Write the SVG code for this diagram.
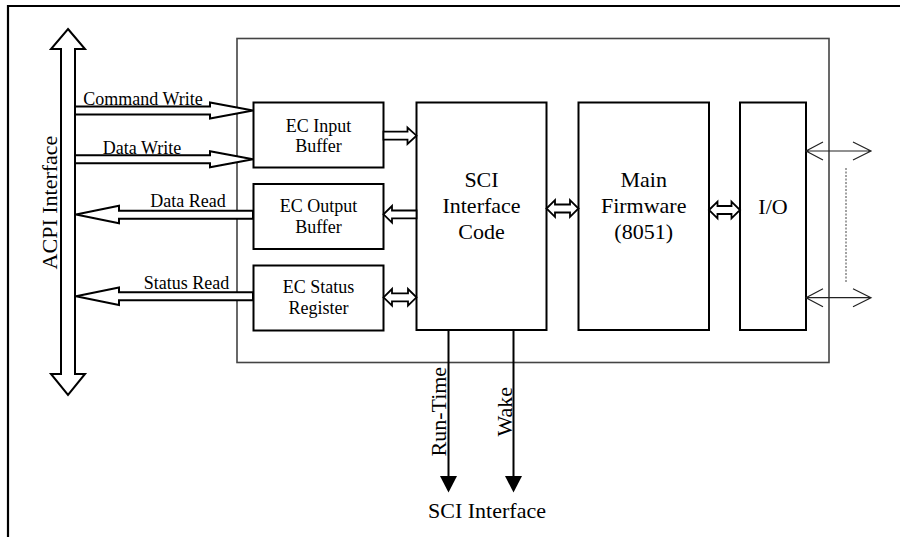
<svg xmlns="http://www.w3.org/2000/svg" width="900" height="537" viewBox="0 0 900 537">
<style>
text{font-family:"Liberation Serif","Times New Roman",serif;fill:#000;text-anchor:middle}
.s{font-size:18px}
.b{font-size:22px}
.box{fill:#fff;stroke:#000;stroke-width:2}
.blk{fill:#fff;stroke:#000;stroke-width:2;stroke-linejoin:miter}
.sm{fill:#fff;stroke:#000;stroke-width:1.8}
.thin{fill:none;stroke:#222;stroke-width:1.2}
</style>
<rect width="900" height="537" fill="#fff"/>
<path d="M8,537 V6 H900" fill="none" stroke="#000" stroke-width="2.2"/>
<g id="ec-container"><rect x="237" y="38.5" width="592" height="324" fill="none" stroke="#444" stroke-width="1.6"/></g>
<g id="acpi">
<polygon class="blk" points="68,29 85,49 75,49 75,374 85,374 68,395 51,374 61,374 61,49 51,49"/>
<text class="b" transform="translate(57,202.5) rotate(-90)">ACPI Interface</text>
</g>
<g id="ec-input"><rect class="box" x="253.5" y="102.5" width="130" height="65"/><text class="s" x="318.5" y="131.7">EC Input</text><text class="s" x="318.5" y="151.7">Buffer</text></g>
<g id="ec-output"><rect class="box" x="253.5" y="184" width="130" height="65"/><text class="s" x="318.5" y="212.3">EC Output</text><text class="s" x="318.5" y="232.7">Buffer</text></g>
<g id="ec-status"><rect class="box" x="253.5" y="265.5" width="130" height="65"/><text class="s" x="318.5" y="293.3">EC Status</text><text class="s" x="318.5" y="314.3">Register</text></g>
<g id="sci"><rect class="box" x="416.5" y="102.5" width="130" height="227.5"/><text class="b" x="481.5" y="186.7">SCI</text><text class="b" x="481.5" y="213.3">Interface</text><text class="b" x="481.5" y="239.3">Code</text></g>
<g id="main-fw"><rect class="box" x="578.5" y="102.5" width="130.5" height="227.5"/><text class="b" x="643.7" y="186.7">Main</text><text class="b" x="643.7" y="213.3">Firmware</text><text class="b" x="643.7" y="239.3">(8051)</text></g>
<g id="io"><rect class="box" x="740" y="102.5" width="66" height="227.5"/><text class="b" x="773" y="214.3">I/O</text></g>
<g id="connectors">
<polygon class="blk" points="75,106.5 210,106.5 210,102.5 253,110.5 210,118.5 210,114.5 75,114.5"/>
<polygon class="blk" points="75,155.3 210,155.3 210,151.3 253,159.3 210,167.3 210,163.3 75,163.3"/>
<polygon class="blk" points="253,210.7 119,210.7 119,205.7 76,214.5 119,223.3 119,218.7 253,218.7"/>
<polygon class="blk" points="253,292.3 119,292.3 119,287.5 76,296.3 119,305 119,300.3 253,300.3"/>
<text class="s" x="143" y="105">Command Write</text>
<text class="s" x="142" y="154">Data Write</text>
<text class="s" x="188" y="206.7">Data Read</text>
<text class="s" x="186.5" y="289">Status Read</text>
<polygon class="sm" points="383.5,131.7 407.5,131.7 407.5,127.5 416.5,135.7 407.5,144 407.5,139.7 383.5,139.7"/>
<polygon class="sm" points="416.5,210.5 392,210.5 392,206 383.5,214.3 392,222.6 392,218.3 416.5,218.3"/>
<polygon class="sm" points="383.5,297.3 392,289 392,293.3 408,293.3 408,289 416.5,297.3 408,305.6 408,301.3 392,301.3 392,305.6"/>
<polygon class="sm" points="546.5,208.5 555,200.2 555,204.5 570,204.5 570,200.2 578.5,208.5 570,216.8 570,212.5 555,212.5 555,216.8"/>
<polygon class="sm" points="709,210 717.5,201.7 717.5,206 731.5,206 731.5,201.7 740,210 731.5,218.3 731.5,214 717.5,214 717.5,218.3"/>
<path class="thin" d="M806,151 H871 M823,142 L806,151 L823,160 M853,142 L871,151 L853,160"/>
<path class="thin" d="M806,297.7 H871 M823,288.7 L806,297.7 L823,306.7 M853,288.7 L871,297.7 L853,306.7"/>
<line x1="846" y1="168" x2="846" y2="282" stroke="#444" stroke-width="1" stroke-dasharray="2,1.5"/>
<path d="M448.5,330 V477 M513.5,330 V477" stroke="#000" stroke-width="2"/>
<polygon points="440,476 457,476 448.5,492.5" fill="#000"/>
<polygon points="505,476 522,476 513.5,492.5" fill="#000"/>
<text class="b" transform="translate(446,411.7) rotate(-90)">Run-Time</text>
<text class="b" transform="translate(511.5,411.7) rotate(-90)">Wake</text>
</g>
<text class="b" x="487" y="518.3">SCI Interface</text>
</svg>
